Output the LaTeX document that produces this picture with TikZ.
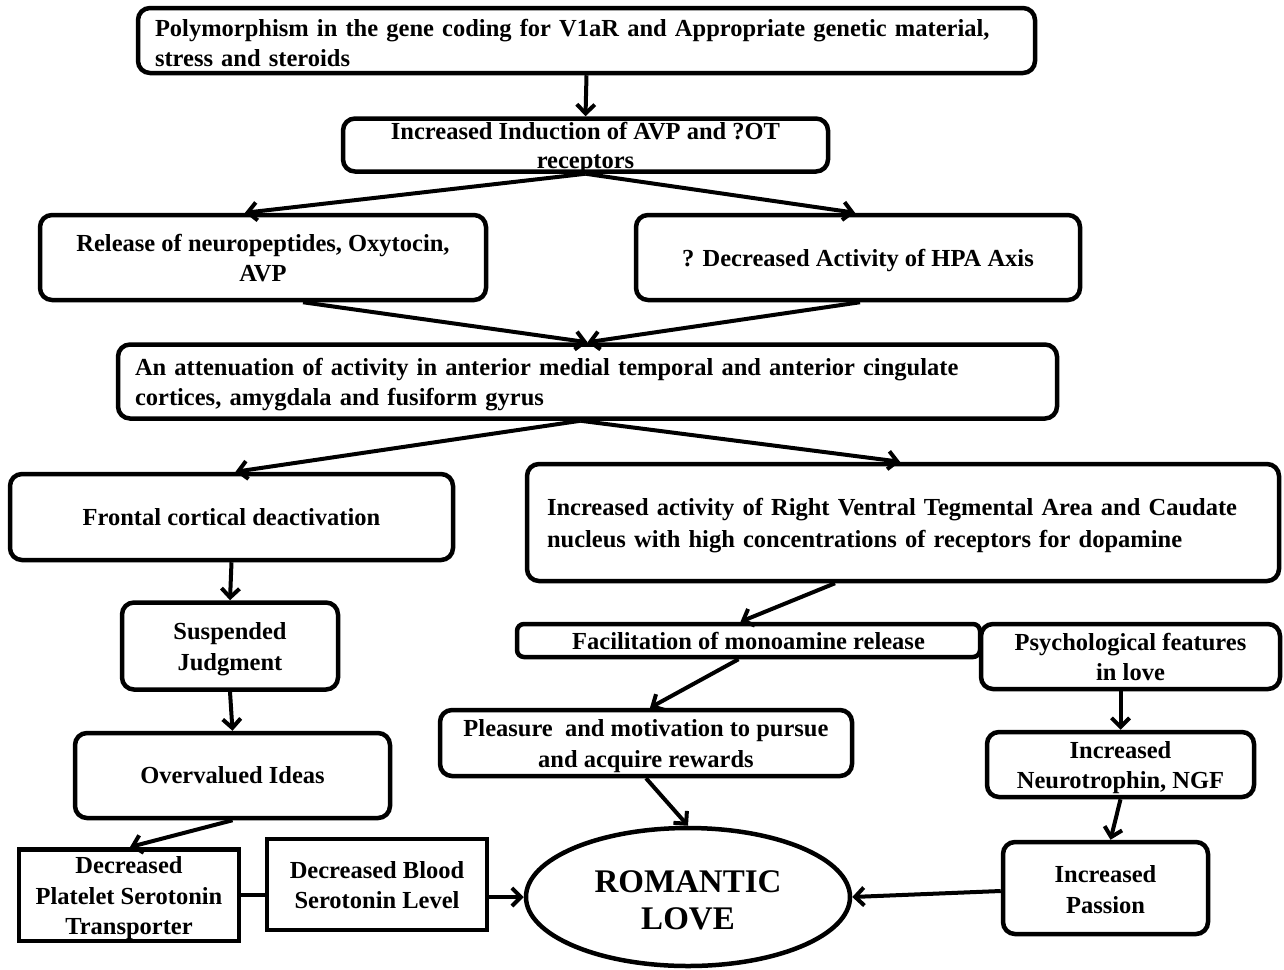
\documentclass[tikz,border=0pt]{standalone}
\usepackage{fontspec}
\setmainfont{Liberation Serif}
\usetikzlibrary{arrows.meta,shapes.geometric}
\newcommand\lowg[4]{\raisebox{-#1}[\dimexpr\height-#2\relax][\dimexpr\depth-#2\relax]{\begin{tabular}{@{}#3@{}}#4\end{tabular}}}
\newcommand\lowt[2][c]{\lowg{3pt}{0pt}{#1}{#2}}
\begin{document}
\begin{tikzpicture}[x=1pt,y=-1pt,
  txt/.style={font=\bfseries\fontsize{24.5}{30.5}\selectfont},
  rbox/.style={txt, draw, line width=4.5pt, rounded corners=12pt, align=center, inner sep=0pt},
  sbox/.style={txt, draw, line width=4.5pt, align=center, inner sep=0pt},
  arr/.style={-{Straight Barb[length=9pt,width=18pt]}, line width=4pt},
  con/.style={line width=4.5pt}]
\useasboundingbox (0,0) rectangle (1284,969);
\node[rbox, minimum width=897, minimum height=65, text width=863, align=left] (top) at (586.5,40.5)
  {\lowg{5pt}{0pt}{l}{Polymorphism in the gene coding for V1aR and Appropriate genetic material,\\stress and steroids}};
\node[rbox, minimum width=485, minimum height=53] (ind) at (585.5,145)
  {\lowg{3pt}{6pt}{c}{Increased Induction of AVP and ?OT\\[-1.5pt]receptors}};
\node[rbox, minimum width=446, minimum height=85] (rel) at (263,257.5)
  {\lowt{Release of neuropeptides, Oxytocin,\\AVP}};
\node[rbox, minimum width=444, minimum height=85] (hpa) at (858,257.5)
  {\lowt{? Decreased Activity of HPA Axis}};
\node[rbox, minimum width=939, minimum height=74, text width=905, align=left] (att) at (587.5,381.5)
  {\lowt[l]{An attenuation of activity in anterior medial temporal and anterior cingulate\\cortices, amygdala and fusiform gyrus}};
\node[rbox, minimum width=443, minimum height=86] (fro) at (231.5,517)
  {Frontal cortical deactivation};
\node[rbox, minimum width=752, minimum height=117, text width=712, align=left] (act) at (903,522.5)
  {\lowt[l]{Increased activity of Right Ventral Tegmental Area and Caudate\\[2pt]nucleus with high concentrations of receptors for dopamine}};
\node[rbox, minimum width=216, minimum height=87] (sus) at (230,646)
  {\lowt{Suspended\\Judgment}};
\node[rbox, minimum width=315, minimum height=85] (ove) at (232.5,775.5)
  {Overvalued Ideas};
\node[rbox, rounded corners=7pt, minimum width=463, minimum height=33] (fac) at (748.5,640.5)
  {Facilitation of monoamine release};
\node[rbox, minimum width=299, minimum height=65] (psy) at (1130.5,656.5)
  {\lowt{Psychological features\\in love}};
\node[rbox, minimum width=412, minimum height=66] (ple) at (646,743)
  {\lowt{Pleasure~ and motivation to pursue\\and acquire rewards}};
\node[rbox, minimum width=267, minimum height=65] (neu) at (1120.5,764.5)
  {\lowt{Increased\\Neurotrophin, NGF}};
\node[sbox, minimum width=220, minimum height=90] (pla) at (129,895)
  {\lowt{Decreased\\Platelet Serotonin\\Transporter}};
\node[sbox, minimum width=220, minimum height=91] (bld) at (377,884.5)
  {\lowt{Decreased Blood\\Serotonin Level}};
\node[draw, ellipse, line width=4.5pt, minimum width=324, minimum height=138, inner sep=0pt, align=center,
  font=\bfseries\fontsize{33}{37}\selectfont] (ell) at (688,897)
  {\lowg{7pt}{0pt}{c}{ROMANTIC\\LOVE}};
\node[rbox, minimum width=205, minimum height=92] (pas) at (1105.5,888)
  {\lowg{4pt}{0pt}{c}{Increased\\Passion}};

\draw[arr] (top.south) -- (ind.north);
\draw[arr] (ind.south) -- ([xshift=-18]rel.north);
\draw[arr] (ind.south) -- ([xshift=-3]hpa.north);
\draw[arr] ([xshift=40]rel.south) -- (att.north);
\draw[arr] ([xshift=2]hpa.south) -- (att.north);
\draw[arr] ([xshift=-7]att.south) -- ([xshift=4]fro.north);
\draw[arr] ([xshift=-7]att.south) -- ([xshift=-3]act.north);
\draw[arr] (fro.south) -- (sus.north);
\draw[arr] (sus.south) -- (ove.north);
\draw[arr] (ove.south) -- ([xshift=1]pla.north);
\draw[con] (pla.east) -- (pla.east -| bld.west);
\draw[arr] (ell.west -| bld.east) -- (ell.west);
\draw[arr] ([xshift=-68]act.south) -- ([xshift=-8]fac.north);
\draw[arr] ([xshift=-10]fac.south) -- ([xshift=4]ple.north);
\draw[arr] (ple.south) -- (ell.north);
\draw[arr] ([xshift=-10]psy.south) -- (neu.north);
\draw[arr] (neu.south) -- ([xshift=5]pas.north);
\draw[arr] ([yshift=-3]pas.west) -- (ell.east);
\end{tikzpicture}
\end{document}
